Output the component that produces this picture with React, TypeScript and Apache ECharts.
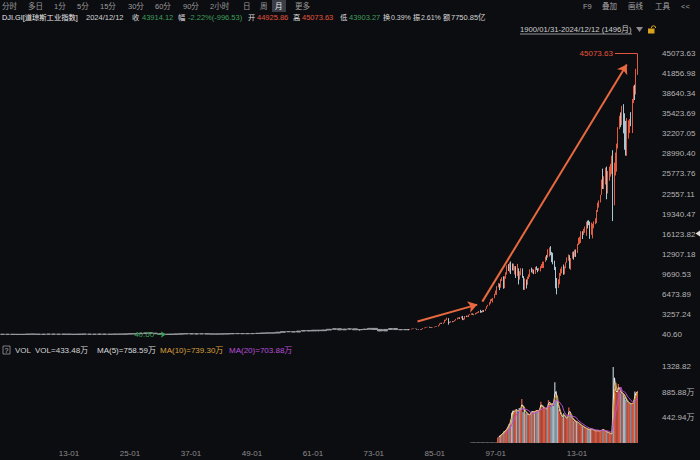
import React, { useEffect, useRef } from 'react';
import * as echarts from 'echarts';

// ---------- DATA ----------
// Yearly candles 1900–1979: [open, close, low, high]
const FIRST_YEAR = 1900;
const yearlyCandles: number[][] = [
  [68, 71, 53, 71], [71, 64, 61, 78], [64, 64, 59, 68], [64, 49, 42, 67], [48, 69, 46, 73],
  [69, 96, 68, 96], [96, 94, 85, 103], [94, 59, 53, 96], [59, 86, 58, 88], [86, 99, 79, 100],
  [99, 81, 73, 99], [81, 82, 73, 87], [82, 88, 80, 94], [88, 79, 72, 88], [79, 54, 53, 83],
  [55, 99, 54, 99], [99, 95, 84, 110], [95, 74, 65, 99], [74, 82, 73, 89], [82, 107, 79, 119],
  [107, 72, 66, 109], [72, 81, 63, 81], [81, 99, 78, 103], [99, 95, 86, 105], [95, 120, 88, 120],
  [120, 157, 115, 159], [157, 157, 135, 166], [157, 202, 152, 202], [202, 300, 191, 300], [300, 248, 198, 381],
  [248, 165, 157, 294], [165, 78, 73, 194], [78, 60, 40.6, 88], [60, 100, 50, 108], [100, 104, 85, 111],
  [104, 144, 96, 148], [144, 180, 143, 185], [180, 121, 113, 194], [121, 155, 99, 158], [155, 150, 121, 156],
  [150, 131, 111, 153], [131, 111, 106, 134], [111, 119, 93, 120], [119, 136, 119, 146], [136, 152, 135, 153],
  [152, 193, 151, 196], [193, 177, 163, 213], [177, 181, 163, 187], [181, 177, 165, 194], [177, 200, 161, 201],
  [200, 235, 196, 236], [235, 269, 238, 276], [269, 292, 256, 293], [292, 281, 256, 294], [281, 404, 280, 405],
  [404, 488, 389, 488], [488, 500, 462, 521], [500, 436, 420, 521], [436, 584, 437, 584], [584, 679, 574, 680],
  [679, 616, 566, 685], [616, 731, 610, 735], [731, 652, 536, 726], [652, 763, 647, 767], [763, 874, 766, 891],
  [874, 969, 840, 969], [969, 786, 744, 995], [786, 905, 786, 943], [905, 944, 825, 985], [944, 800, 769, 968],
  [800, 839, 631, 842], [839, 890, 798, 950], [890, 1020, 889, 1036], [1020, 851, 788, 1052], [851, 616, 577, 892],
  [616, 852, 632, 882], [852, 1005, 858, 1015], [1005, 831, 800, 1000], [831, 805, 742, 907], [805, 839, 796, 898],
];

// Quarterly candles 1980Q1–2024Q4: [open, close, low, high]
const QUARTER_START = 1980;
const quarterlyCandles: number[][] = [
  [839, 786, 730, 903], [786, 868, 759, 888], [868, 932, 865, 974], [932, 964, 893, 1000],
  [964, 1004, 931, 1015], [1004, 977, 966, 1024], [977, 850, 824, 960], [850, 875, 836, 892],
  [875, 823, 795, 882], [823, 812, 788, 870], [812, 896, 776, 936], [896, 1047, 895, 1070],
  [1047, 1130, 1027, 1145], [1130, 1222, 1113, 1249], [1222, 1233, 1175, 1260], [1233, 1259, 1214, 1287],
  [1259, 1165, 1134, 1287], [1165, 1133, 1086, 1186], [1133, 1207, 1086, 1245], [1207, 1212, 1163, 1245],
  [1212, 1267, 1184, 1300], [1267, 1336, 1242, 1340], [1336, 1329, 1297, 1372], [1329, 1547, 1310, 1553],
  [1547, 1819, 1502, 1822], [1819, 1893, 1739, 1909], [1893, 1768, 1758, 1919], [1768, 1896, 1755, 1955],
  [1896, 2305, 1895, 2405], [2305, 2419, 2216, 2446], [2419, 2596, 2380, 2747], [2596, 1939, 1616, 2662],
  [1939, 1989, 1879, 2087], [1989, 2142, 1950, 2166], [2142, 2113, 2010, 2160], [2113, 2169, 2038, 2195],
  [2169, 2294, 2144, 2350], [2294, 2441, 2290, 2530], [2441, 2693, 2438, 2760], [2693, 2753, 2560, 2790],
  [2753, 2707, 2543, 2790], [2707, 2881, 2645, 2935], [2881, 2453, 2350, 3024], [2453, 2634, 2344, 2650],
  [2634, 2914, 2447, 3003], [2914, 2907, 2840, 3055], [2907, 3017, 2880, 3055], [3017, 3169, 2836, 3204],
  [3169, 3236, 3140, 3300], [3236, 3319, 3181, 3431], [3319, 3272, 3212, 3420], [3272, 3301, 3118, 3350],
  [3301, 3436, 3240, 3500], [3436, 3516, 3354, 3570], [3516, 3555, 3450, 3660], [3555, 3754, 3510, 3804],
  [3754, 3636, 3520, 3994], [3636, 3625, 3560, 3810], [3625, 3843, 3600, 3980], [3843, 3834, 3660, 3936],
  [3834, 4158, 3823, 4170], [4158, 4556, 4140, 4600], [4556, 4789, 4530, 4800], [4789, 5117, 4700, 5216],
  [5117, 5587, 5000, 5683], [5587, 5655, 5400, 5778], [5655, 5882, 5170, 5905], [5882, 6448, 5850, 6560],
  [6448, 6584, 6391, 7085], [6584, 7673, 6391, 7796], [7673, 7945, 7600, 8300], [7945, 7908, 7161, 8200],
  [7908, 8800, 7540, 8906], [8800, 8952, 8627, 9211], [8952, 7843, 7379, 9367], [7843, 9181, 7467, 9380],
  [9181, 9786, 8980, 10007], [9786, 10971, 9654, 11107], [10971, 10337, 10213, 11326], [10337, 11497, 9976, 11568],
  [11497, 10922, 9731, 11750], [10922, 10448, 10300, 11425], [10448, 10651, 10300, 11401], [10651, 10787, 9654, 11000],
  [10787, 9879, 9106, 11000], [9879, 10502, 9389, 11350], [10502, 8848, 8062, 10650], [8848, 10021, 8836, 10184],
  [10021, 10403, 9529, 10673], [10403, 9243, 9120, 10635], [9243, 7592, 7197, 9400], [7592, 8341, 7181, 9043],
  [8341, 7992, 7416, 8869], [7992, 8985, 7992, 9323], [8985, 9275, 8930, 9686], [9275, 10453, 9275, 10486],
  [10453, 10357, 9990, 10753], [10357, 10435, 9852, 10570], [10435, 10080, 9708, 10435], [10080, 10783, 9749, 10868],
  [10783, 10503, 10368, 10984], [10503, 10275, 10012, 10640], [10275, 10569, 10250, 10720], [10569, 10718, 10156, 10990],
  [10718, 11109, 10661, 11334], [11109, 11150, 10700, 11709], [11150, 11679, 10683, 11727], [11679, 12463, 11670, 12529],
  [12463, 12354, 11939, 12796], [12354, 13408, 12354, 13692], [13408, 13896, 12518, 14000], [13896, 13265, 12743, 14198],
  [13265, 12263, 11634, 13279], [12263, 11350, 11287, 13136], [11350, 10851, 10365, 11867], [10851, 8776, 7450, 10882],
  [8776, 7609, 6470, 9088], [7609, 8447, 7500, 8878], [8447, 9712, 8087, 9918], [9712, 10428, 9430, 10580],
  [10428, 10857, 9835, 10907], [10857, 9774, 9614, 11258], [9774, 10788, 9686, 10948], [10788, 11578, 10660, 11625],
  [11578, 12320, 11555, 12391], [12320, 12414, 11862, 12876], [12414, 10913, 10597, 12753], [10913, 12218, 10405, 12284],
  [12218, 13212, 12218, 13297], [13212, 12880, 12035, 13338], [12880, 13437, 12492, 13653], [13437, 13104, 12471, 13661],
  [13104, 14579, 13104, 14585], [14579, 14910, 14400, 15542], [14910, 15130, 14551, 15709], [15130, 16577, 14719, 16588],
  [16577, 16458, 15341, 16588], [16458, 16827, 16015, 16978], [16827, 17043, 16333, 17350], [17043, 17823, 15855, 18103],
  [17823, 17776, 17037, 18288], [17776, 17620, 17576, 18351], [17620, 16285, 15370, 18137], [16285, 17425, 16013, 17977],
  [17425, 17685, 15450, 17790], [17685, 17930, 17063, 18168], [17930, 18308, 17713, 18668], [18308, 19763, 17883, 19987],
  [19763, 20663, 19677, 21169], [20663, 21350, 20380, 21535], [21350, 22405, 21197, 22420], [22405, 24719, 22416, 24876],
  [24719, 24103, 23360, 26617], [24103, 24271, 23344, 25403], [24271, 26458, 24077, 26770], [26458, 23327, 21713, 26951],
  [23327, 25929, 22638, 26242], [25929, 26600, 24680, 26953], [26600, 26917, 25339, 27399], [26917, 28538, 25743, 28702],
  [28538, 21917, 18214, 29569], [21917, 25813, 20735, 27581], [25813, 27782, 25524, 29199], [27782, 30606, 26144, 30638],
  [30606, 32982, 29856, 33259], [32982, 34503, 32939, 35092], [34503, 33844, 33271, 35632], [33844, 36338, 33613, 36679],
  [36338, 34678, 32272, 36953], [34678, 30775, 29653, 35492], [30775, 28726, 28715, 34281], [28726, 33147, 28661, 34712],
  [33147, 33274, 31429, 34342], [33274, 34407, 32327, 34589], [34407, 33508, 33427, 35679], [33508, 37690, 32327, 37778],
  [37690, 39807, 37122, 39889], [39807, 39119, 37612, 40077], [39119, 42330, 38499, 42628], [42330, 43914.12, 41650, 45073.63],
];

// Quarterly volume level (axis units), 1992Q1–2024Q4
const VOLUME_START = 1992;
const quarterlyVolume: number[] = [
  15, 15, 15, 15, 15, 15, 15, 15, 15, 15, 15, 15, 15, 15, 15, 15, 15, 15, 15, 15,
  15, 95, 115, 135,
  155, 175, 205, 215,
  250, 290, 330, 390,
  530, 570, 540, 590,
  580, 520, 610, 560,
  770, 540, 590, 520,
  510, 490, 500, 520,
  560, 540, 550, 565,
  570, 560, 600, 720,
  600, 625, 600, 590,
  620, 750, 680, 640,
  700, 650, 1060, 740,
  690, 590, 520, 470,
  450, 520, 440, 430,
  450, 620, 480, 440,
  420, 390, 380, 370,
  360, 330, 320, 300,
  290, 270, 260, 250,
  240, 230, 250, 240,
  230, 220, 210, 220,
  210, 215, 220, 225,
  240, 210, 200, 190,
  180, 170, 160, 150,
  1328.82, 950, 880, 900,
  1030, 900, 870, 880,
  850, 800, 750, 720,
  700, 690, 680, 700,
  720, 900, 860, 910,
];
const VOLUME_REAL_START = 21; // index of 1997Q2, first traded volume

const xLabelYears = [1913, 1925, 1937, 1949, 1961, 1973, 1985, 1997, 2013];

// hand-drawn trend arrows (annotation), in [year, value]
const trendArrows: number[][][] = [
  [[1981.8, 2120], [1993.5, 4830]],
  [[1994.5, 5310], [2022.8, 43300]],
];

// ---------- STYLE ----------
const BG = '#0c0d11';
const FONT = "'Liberation Sans', 'Noto Sans CJK SC', sans-serif";
const RED = '#e2563d';
const GREEN = '#3f9f5c';
const UP = '#e25b3f';
const DOWN = '#a9c6d3';
const VOL_UP = '#d65a43';
const VOL_DOWN = '#a7b9c4';
const ORANGE = '#e8693f';

function txt(x: number, y: number, text: string, fill: string, extra: any = {}) {
  return {
    type: 'text', x, y, silent: true,
    style: {
      text, fill, fontSize: 8, fontFamily: FONT,
      align: 'left', verticalAlign: 'middle', textAlign: 'left', textVerticalAlign: 'middle',
      ...extra,
    },
  };
}

function trunc2(v: number) {
  return (Math.floor(v * 100 + 1e-6) / 100).toFixed(2);
}

function movingAvg(values: number[], n: number, start: number) {
  return values.map((_, i) => {
    if (i - start + 1 < n) return null;
    let s = 0;
    for (let k = i - n + 1; k <= i; k++) s += values[k];
    return s / n;
  });
}

function buildOption() {
  const yearData = yearlyCandles.map((c, i) => [FIRST_YEAR + i + 0.5, c[0], c[1], c[2], c[3]]);
  const qx = (i: number) => QUARTER_START + Math.floor(i / 4) + (i % 4) * 0.25 + 0.125;
  const quarterData = quarterlyCandles.map((c, i) => [qx(i), c[0], c[1], c[2], c[3]]);
  const all = [...yearData, ...quarterData];
  let minItem = all[0], maxItem = all[0];
  all.forEach((d) => {
    if (d[3] < minItem[3]) minItem = d;
    if (d[4] > maxItem[4]) maxItem = d;
  });
  const priceMin = minItem[3];
  const priceMax = maxItem[4];
  const priceInterval = (priceMax - priceMin) / 14;

  const volOffset = (VOLUME_START - QUARTER_START) * 4;
  const vx = (i: number) => qx(i + volOffset);
  const volData = quarterlyVolume.map((v, i) => {
    const c = quarterlyCandles[i + volOffset];
    const color = i < VOLUME_REAL_START ? '#6d6f74' : c[1] >= c[0] ? VOL_UP : VOL_DOWN;
    return { value: [vx(i), v], itemStyle: { color } };
  });
  const volMax = Math.max(...quarterlyVolume);
  const volInterval = volMax / 3;
  const ma = (n: number) =>
    movingAvg(quarterlyVolume, n, VOLUME_REAL_START)
      .map((v, i) => [vx(i), v])
      .filter((p) => p[1] != null);

  const graphic: any[] = [];
  // toolbar row
  const periods: [string, number][] = [
    ['分时', 2], ['多日', 28], ['1分', 54], ['5分', 77], ['15分', 100], ['30分', 128], ['60分', 155],
    ['90分', 183], ['2小时', 210], ['日', 243], ['周', 260], ['月', 275], ['更多', 295],
  ];
  graphic.push({ type: 'rect', silent: true, shape: { x: 272, y: 0, width: 14, height: 12 }, style: { fill: '#3b3e46' } });
  periods.forEach(([t, x]) => graphic.push(txt(x, 6, t, t === '月' ? '#f0f0f0' : '#9c9c9c', { fontSize: 7.5 })));
  ([['F9', 583], ['叠加', 602], ['画线', 628], ['工具', 655], ['<<', 681]] as [string, number][]).forEach(([t, x]) =>
    graphic.push(txt(x, 6, t, '#a4a4a4', { fontSize: 7.5 })),
  );
  // quote row
  const quote: [string, number, string, number][] = [
    ['DJI.GI[道琼斯工业指数]', 2, '#ececec', 7.3], ['2024/12/12', 86, '#d4d4d4', 7.5],
    ['收', 132, '#dcdcdc', 7.3], ['43914.12', 142, GREEN, 7.5], ['幅', 178, '#dcdcdc', 7.3], ['-2.22%(-996.53)', 188, GREEN, 7.5],
    ['开', 248, '#dcdcdc', 7.3], ['44925.86', 257, RED, 7.5], ['高', 293, '#dcdcdc', 7.3], ['45073.63', 302, RED, 7.5],
    ['低', 340, '#dcdcdc', 7.3], ['43903.27', 349, GREEN, 7.5], ['换', 383, '#dcdcdc', 7.3], ['0.39%', 391, '#d4d4d4', 7],
    ['振', 413, '#dcdcdc', 7.3], ['2.61%', 421, '#d4d4d4', 7], ['额', 443, '#dcdcdc', 7.3], ['7750.85亿', 451, '#d4d4d4', 7.5],
  ];
  quote.forEach(([t, x, c, fs]) => graphic.push(txt(x, 17, t, c, { fontSize: fs })));
  // range row
  graphic.push(txt(520, 29, '1900/01/31-2024/12/12 (1496月)', '#cfcfcf', { fontSize: 7.7 }));
  graphic.push({ type: 'line', silent: true, shape: { x1: 520, y1: 34, x2: 632, y2: 34 }, style: { stroke: '#cfcfcf', lineWidth: 0.7 } });
  graphic.push({ type: 'polygon', silent: true, shape: { points: [[636, 27], [643, 27], [639.5, 32]] }, style: { fill: '#8a8a8a' } });
  graphic.push({ type: 'rect', silent: true, shape: { x: 648, y: 28.5, width: 6.5, height: 5 }, style: { fill: '#d9a21b' } });
  graphic.push({
    type: 'arc', silent: true,
    shape: { cx: 653.5, cy: 28, r: 2.2, startAngle: Math.PI, endAngle: 2 * Math.PI },
    style: { stroke: '#d9a21b', lineWidth: 1, fill: 'none' },
  });
  // small marker on price axis
  graphic.push({ type: 'polygon', silent: true, shape: { points: [[700, 230.5], [700, 236.5], [695.5, 233.5]] }, style: { fill: '#dcdcdc' } });
  // volume legend row
  graphic.push({ type: 'rect', silent: true, shape: { x: 3, y: 346, width: 7, height: 8 }, style: { fill: 'none', stroke: '#9a9a9a', lineWidth: 0.8 } });
  graphic.push(txt(4.5, 350.5, '?', '#bdbdbd', { fontSize: 7 }));
  graphic.push(txt(15, 350, 'VOL', '#cfcfcf'));
  graphic.push(txt(35, 350, 'VOL=433.48万', '#d4d4d4'));
  graphic.push(txt(97, 350, 'MA(5)=758.59万', '#dadada'));
  graphic.push(txt(160, 350, 'MA(10)=739.30万', '#d9a13b'));
  graphic.push(txt(229, 350, 'MA(20)=703.88万', '#b84fd8'));

  const axisX = (idx: number, showLabel: boolean) => ({
    type: 'value', gridIndex: idx, min: 1900, max: 2025, interval: 1,
    axisLine: { show: false }, axisTick: { show: false }, splitLine: { show: false },
    axisLabel: {
      show: showLabel, color: '#8c8c8c', fontSize: 8, fontFamily: FONT, margin: 6,
      showMinLabel: true, showMaxLabel: false,
      formatter: (v: number) => (xLabelYears.includes(Math.round(v)) ? `${String(Math.round(v)).slice(2)}-01` : ''),
    },
  });

  const arrowLines = trendArrows.map(([a, b]) => [
    { coord: a, symbol: 'none', lineStyle: { color: ORANGE, width: 2, type: 'solid' }, label: { show: false } },
    { coord: b, symbol: 'arrow', symbolSize: 9 },
  ]);

  return {
    animation: false,
    backgroundColor: BG,
    textStyle: { fontFamily: FONT },
    graphic,
    grid: [
      { left: 0, right: 62, top: 53.5, height: 281 },
      { left: 0, right: 62, top: 364.7, bottom: 17 },
    ],
    xAxis: [axisX(0, false), axisX(1, true)],
    yAxis: [
      {
        type: 'value', gridIndex: 0, position: 'right', min: priceMin, max: priceMax, interval: priceInterval,
        axisLine: { show: false }, axisTick: { show: false }, splitLine: { show: false },
        axisLabel: { color: '#b4b4b4', fontSize: 8, fontFamily: FONT, align: 'left', margin: 24, formatter: (v: number) => trunc2(v) },
      },
      {
        type: 'value', gridIndex: 1, position: 'right', min: 0, max: volMax * 1.03, interval: volInterval,
        axisLine: { show: false }, axisTick: { show: false }, splitLine: { show: false },
        axisLabel: {
          color: '#b4b4b4', fontSize: 8, fontFamily: FONT, align: 'left', margin: 24,
          showMinLabel: false, showMaxLabel: false,
          formatter: (v: number) => (v > 1000 ? trunc2(v) : trunc2(v) + '万'),
        },
      },
    ],
    series: [
      {
        type: 'candlestick', xAxisIndex: 0, yAxisIndex: 0, data: yearData, barWidth: 5.1,
        itemStyle: { color: '#9a9ca1', color0: '#9a9ca1', borderColor: '#9a9ca1', borderColor0: '#9a9ca1', borderWidth: 1 },
        markLine: {
          silent: true, symbol: ['none', 'none'], label: { show: false }, animation: false,
          data: [[
            {
              coord: [minItem[0] - 1.7, priceMin], symbol: 'none',
              lineStyle: { color: GREEN, width: 1, type: 'solid' },
              label: { show: true, position: 'start', formatter: trunc2(priceMin), color: GREEN, fontSize: 8, fontFamily: FONT, distance: 3 },
            },
            { coord: [minItem[0], priceMin], symbol: 'arrow', symbolSize: 5 },
          ]],
        },
      },
      {
        type: 'candlestick', xAxisIndex: 0, yAxisIndex: 0, data: quarterData, barWidth: 1.2,
        itemStyle: { color: UP, color0: DOWN, borderColor: UP, borderColor0: DOWN, borderWidth: 1 },
        markLine: {
          silent: true, symbol: ['none', 'none'], label: { show: false }, animation: false,
          data: [
            [
              {
                coord: [maxItem[0] - 4.4, priceMax], symbol: 'none',
                lineStyle: { color: RED, width: 1, type: 'solid' },
                label: { show: true, position: 'start', formatter: trunc2(priceMax), color: RED, fontSize: 8, fontFamily: FONT, distance: 2 },
              },
              { coord: [maxItem[0], priceMax], symbol: 'none' },
            ],
            ...arrowLines,
          ],
        },
      },
      {
        type: 'bar', xAxisIndex: 1, yAxisIndex: 1, data: volData, barWidth: 1.3,
      },
      { type: 'line', xAxisIndex: 1, yAxisIndex: 1, data: ma(2), symbol: 'none', lineStyle: { color: '#eeeeee', width: 1 } },
      { type: 'line', xAxisIndex: 1, yAxisIndex: 1, data: ma(3), symbol: 'none', lineStyle: { color: '#d9a13b', width: 1 } },
      { type: 'line', xAxisIndex: 1, yAxisIndex: 1, data: ma(7), symbol: 'none', lineStyle: { color: '#b84fd8', width: 1 } },
    ],
  };
}

export default function App() {
  const ref = useRef<HTMLDivElement>(null);
  useEffect(() => {
    document.body.style.margin = '0';
    document.body.style.background = BG;
    const chart = echarts.init(ref.current as HTMLDivElement, null, { renderer: 'svg' });
    chart.setOption(buildOption() as any);
    return () => chart.dispose();
  }, []);
  return <div ref={ref} style={{ width: 700, height: 460 }} />;
}
